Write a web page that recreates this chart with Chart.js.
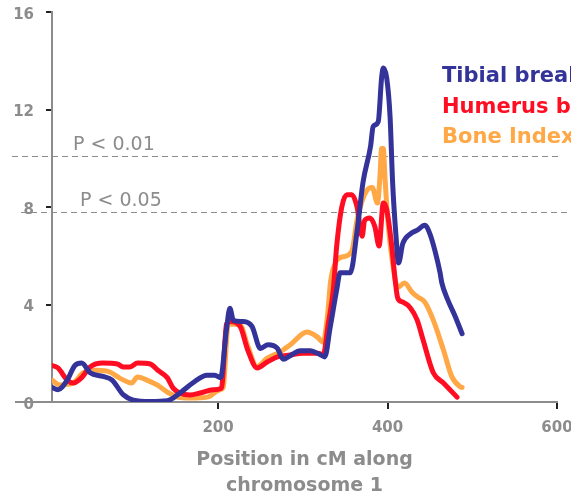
<!DOCTYPE html>
<html>
<head>
<meta charset="utf-8">
<title>LOD scan, chromosome 1</title>
<script src="https://cdn.jsdelivr.net/npm/chart.js@4.4.1/dist/chart.umd.min.js"></script>
<style>
  html, body { margin: 0; padding: 0; background: #fff; }
  #wrap { width: 571px; height: 499px; }
</style>
</head>
<body>
<div id="wrap"><canvas id="lodChart"></canvas></div>
<script>
// LOD scores along chromosome 1 (position in cM)
const seriesNames = ['Tibial breakpoint', 'Humerus breakpoint', 'Bone Index'];

const tibialPos = [4, 11, 22, 31, 39, 49, 64, 75, 88, 100, 120, 140, 155, 170, 187, 196, 203, 210, 214, 218,
  229, 240, 250, 259, 270, 277, 285, 297, 309, 320, 326, 332, 340, 344, 356, 364, 371, 380, 383, 389,
  393, 395, 399, 403, 406, 410, 413, 418, 427, 435, 444, 450, 456, 462, 464, 471, 480, 488];
const tibialLod = [0.6, 0.5, 0.9, 1.5, 1.6, 1.2, 1.05, 0.9, 0.3, 0.08, 0.02, 0.05, 0.37, 0.78, 1.1, 1.1, 1.0, 3.0, 3.85, 3.35,
  3.3, 3.1, 2.2, 2.35, 2.2, 1.75, 1.9, 2.1, 2.1, 1.95, 1.85, 3.0, 4.6, 5.3, 5.3, 7.0, 9.0, 10.5, 11.3, 11.5,
  13.3, 13.7, 13.3, 11.7, 9.0, 6.8, 5.7, 6.5, 6.9, 7.05, 7.25, 6.9, 6.2, 5.3, 4.9, 4.2, 3.5, 2.8];

const humerusPos = [4, 11, 22, 29, 39, 49, 64, 81, 88, 96, 105, 120, 129, 140, 147, 155, 167, 179, 194, 204,
  210, 214, 226, 235, 246, 258, 270, 285, 300, 318, 324, 330, 336, 340, 346, 352, 358, 364, 370, 373,
  379, 385, 390, 395, 399, 405, 409, 412, 418, 427, 435, 442, 454, 466, 482];
const humerusLod = [1.5, 1.4, 0.9, 0.78, 1.0, 1.44, 1.6, 1.56, 1.44, 1.44, 1.6, 1.56, 1.3, 1.0, 0.57, 0.37, 0.29, 0.37, 0.5, 0.57,
  3.2, 3.3, 3.1, 2.13, 1.4, 1.64, 1.85, 1.93, 2.0, 2.0, 1.93, 3.2, 4.6, 6.4, 8.0, 8.5, 8.5, 8.0, 6.8, 7.45,
  7.55, 7.2, 6.4, 8.16, 7.9, 6.4, 5.0, 4.27, 4.1, 3.86, 3.36, 2.54, 1.2, 0.78, 0.2];

const boneIdxPos = [4, 13, 29, 41, 57, 72, 84, 98, 105, 116, 128, 140, 152, 167, 187, 202, 206, 212, 226, 235,
  246, 258, 273, 285, 305, 317, 324, 329, 333, 340, 347, 358, 364, 376, 382, 388, 391, 393, 395, 397,
  400, 406, 412, 420, 429, 436, 444, 454, 466, 476, 486, 488];
const boneIdxLod = [0.9, 0.7, 0.78, 1.2, 1.3, 1.23, 0.98, 0.78, 1.03, 0.9, 0.7, 0.41, 0.2, 0.16, 0.2, 0.5, 0.6, 3.2, 3.16, 2.3,
  1.45, 1.8, 2.05, 2.34, 2.87, 2.67, 2.46, 3.5, 5.0, 5.8, 5.95, 6.2, 7.47, 8.7, 8.8, 8.16, 9.2, 10.4, 10.4, 9.2,
  7.6, 5.7, 4.7, 4.88, 4.5, 4.3, 4.1, 3.36, 2.13, 1.03, 0.62, 0.6];

const xTicks = [200, 400, 600];
const yTicks = [0, 4, 8, 12, 16];

// significance thresholds
const thresholds = [10.1, 7.8];
const thresholdLabels = ['P < 0.01', 'P < 0.05'];

const colors = ['#33339a', '#ff0d22', '#ffa845'];
const gray = '#8c8c8c';

function toPoints(xs, ys) {
  return xs.map((x, i) => ({ x: x, y: ys[i] }));
}

Chart.defaults.font.family = "'DejaVu Sans', sans-serif";

const extrasPlugin = {
  id: 'extras',
  beforeDatasetsDraw(chart) {
    const { ctx, chartArea, scales } = chart;
    ctx.save();
    // x axis line sticks out a bit left of the y axis
    ctx.strokeStyle = gray;
    ctx.lineWidth = 2;
    ctx.beginPath();
    ctx.moveTo(15, chartArea.bottom);
    ctx.lineTo(chartArea.left, chartArea.bottom);
    ctx.stroke();

    // dashed threshold lines + labels
    const lineEnds = [[12, 558], [21, 571]];
    const labelX = [73, 80];
    ctx.lineWidth = 1;
    ctx.setLineDash([6, 4]);
    ctx.font = "19px 'DejaVu Sans'";
    ctx.fillStyle = gray;
    ctx.textBaseline = 'alphabetic';
    thresholds.forEach((t, i) => {
      const py = Math.round(scales.y.getPixelForValue(t)) + 0.5;
      ctx.beginPath();
      ctx.moveTo(lineEnds[i][0], py);
      ctx.lineTo(lineEnds[i][1], py);
      ctx.stroke();
      ctx.fillText(thresholdLabels[i], labelX[i], py - 7);
    });
    ctx.restore();
  },
  afterDraw(chart) {
    const { ctx } = chart;
    ctx.save();
    ctx.font = "bold 21px 'DejaVu Sans'";
    ctx.textBaseline = 'alphabetic';
    chart.data.datasets.forEach((ds, i) => {
      ctx.fillStyle = ds.borderColor;
      ctx.fillText(ds.label, 442, 82 + i * 30.5);
    });
    ctx.restore();
  }
};

new Chart(document.getElementById('lodChart'), {
  type: 'line',
  data: {
    datasets: [
      { label: seriesNames[0], data: toPoints(tibialPos, tibialLod), borderColor: colors[0] },
      { label: seriesNames[1], data: toPoints(humerusPos, humerusLod), borderColor: colors[1] },
      { label: seriesNames[2], data: toPoints(boneIdxPos, boneIdxLod), borderColor: colors[2] }
    ]
  },
  options: {
    responsive: true,
    maintainAspectRatio: false,
    animation: false,
    layout: { padding: { left: 0, right: 14, top: 12, bottom: 0 } },
    plugins: { legend: { display: false }, tooltip: { enabled: false } },
    elements: {
      point: { radius: 0 },
      line: {
        borderWidth: 5,
        tension: 0.4,
        cubicInterpolationMode: 'monotone',
        borderCapStyle: 'round',
        borderJoinStyle: 'round',
        fill: false
      }
    },
    scales: {
      x: {
        type: 'linear',
        min: 4,
        max: 600,
        afterFit: s => { s.height = 97; s.paddingLeft = 0; s.paddingRight = 0; },
        afterBuildTicks: s => { s.ticks = xTicks.map(v => ({ value: v })); },
        ticks: { color: gray, padding: 10, font: { size: 15, weight: 'bold' }, maxRotation: 0 },
        grid: { drawOnChartArea: false, tickLength: 7, tickColor: '#222', tickWidth: 2, lineWidth: 2 },
        border: { color: gray, width: 2 },
        title: {
          display: true,
          text: ['Position in cM along', 'chromosome 1'],
          color: gray,
          padding: { top: 0, bottom: 0 },
          font: { size: 19, weight: 'bold', lineHeight: 1.37 }
        }
      },
      y: {
        min: 0,
        max: 16,
        afterFit: s => { s.width = 52; s.paddingTop = 0; s.paddingBottom = 0; },
        afterBuildTicks: s => { s.ticks = yTicks.map(v => ({ value: v })); },
        ticks: { color: gray, padding: 12, labelOffset: 3, font: { size: 15, weight: 'bold' } },
        grid: { drawOnChartArea: false, tickLength: 6, tickColor: '#222', tickWidth: 2, lineWidth: 2 },
        border: { color: gray, width: 2 }
      }
    }
  },
  plugins: [extrasPlugin]
});
</script>
</body>
</html>
